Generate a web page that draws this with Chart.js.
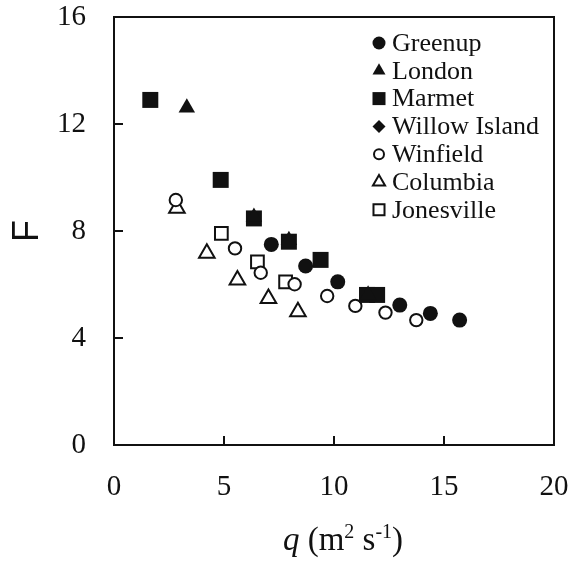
<!DOCTYPE html>
<html>
<head>
<meta charset="utf-8">
<script src="https://cdn.jsdelivr.net/npm/chart.js@4.4.1/dist/chart.umd.min.js"></script>
<style>
  html, body { margin: 0; padding: 0; background: #fff; }
  #wrap { width: 574px; height: 565px; }
</style>
</head>
<body>
<div id="wrap"><canvas id="chart" width="574" height="565"></canvas></div>
<script>
// Werte: q (m2 s-1) gegen F
const siteNames = ['Greenup', 'London', 'Marmet', 'Willow Island', 'Winfield', 'Columbia', 'Jonesville'];

const greenupQ = [7.15, 8.71, 10.17, 12.99, 14.38, 15.71];
const greenupF = [7.50, 6.69, 6.10, 5.23, 4.92, 4.67];

const londonQ = [3.31, 6.36, 7.95, 11.55];
const londonF = [12.61, 8.52, 7.65, 5.62];

const marmetQ = [1.65, 4.85, 6.36, 7.95, 9.39, 11.50, 11.96];
const marmetF = [12.90, 9.91, 8.47, 7.60, 6.92, 5.61, 5.61];

const willowQ = [4.85, 9.40, 11.90];
const willowF = [9.90, 6.92, 5.60];

const winfieldQ = [2.81, 5.50, 6.67, 8.21, 9.69, 10.97, 12.34, 13.74];
const winfieldF = [9.16, 7.35, 6.44, 6.01, 5.57, 5.20, 4.95, 4.67];

const columbiaQ = [2.86, 4.22, 5.61, 7.02, 8.36];
const columbiaF = [8.85, 7.17, 6.17, 5.48, 4.98];

const jonesvilleQ = [4.88, 6.52, 7.80];
const jonesvilleF = [7.91, 6.85, 6.10];

const xTicks = [0, 5, 10, 15, 20];
const yTicks = [0, 4, 8, 12, 16];

const ink = '#111';
const serif = "'Liberation Serif', 'Times New Roman', serif";

function pts(qs, fs) {
  return qs.map((q, i) => ({ x: q, y: fs[i] }));
}

// Marker je Station: Form, Füllung, Größe im Diagramm und in der Legende
const markers = [
  { style: 'circle',   fill: ink,    r: 7.5,  bw: 0, lr: 6.5 },
  { style: 'triangle', fill: ink,    r: 9.5,  bw: 0, lr: 7.5 },
  { style: 'rect',     fill: ink,    r: 11.3, bw: 0, lr: 9.2 },
  { style: 'rectRot',  fill: ink,    r: 7,    bw: 0, lr: 6.5 },
  { style: 'circle',   fill: '#fff', r: 6.2,  bw: 2, lr: 5 },
  { style: 'triangle', fill: '#fff', r: 9,    bw: 2, lr: 7 },
  { style: 'rect',     fill: '#fff', r: 9,    bw: 2, lr: 7.8 }
];

const seriesData = [
  pts(greenupQ, greenupF),
  pts(londonQ, londonF),
  pts(marmetQ, marmetF),
  pts(willowQ, willowF),
  pts(winfieldQ, winfieldF),
  pts(columbiaQ, columbiaF),
  pts(jonesvilleQ, jonesvilleF)
];

const datasets = seriesData.map((d, i) => ({
  label: siteNames[i],
  data: d,
  showLine: false,
  pointStyle: markers[i].style,
  pointRadius: markers[i].r,
  pointBackgroundColor: markers[i].fill,
  pointBorderColor: ink,
  pointBorderWidth: markers[i].bw
}));

// Achsen ohne Zusatzabstand, damit die Plotfläche fest sitzt
function noPad(s) {
  s.paddingLeft = 0; s.paddingRight = 0; s.paddingTop = 0; s.paddingBottom = 0;
}

// Rahmen oben/rechts, Legende und x-Achsentitel
const decorPlugin = {
  id: 'decor',
  afterDraw(chart) {
    const { ctx, chartArea: a } = chart;
    ctx.save();
    ctx.strokeStyle = ink;
    ctx.lineWidth = 2;
    ctx.beginPath();
    ctx.moveTo(a.left - 1, a.top);
    ctx.lineTo(a.right, a.top);
    ctx.lineTo(a.right, a.bottom + 1);
    ctx.stroke();

    // Legende
    ctx.font = '26px ' + serif;
    ctx.textBaseline = 'middle';
    ctx.textAlign = 'left';
    siteNames.forEach((name, i) => {
      const y = 43 + i * 27.8;
      const m = markers[i];
      ctx.fillStyle = m.fill;
      ctx.strokeStyle = ink;
      ctx.lineWidth = m.bw;
      Chart.helpers.drawPoint(ctx, { pointStyle: m.style, radius: m.lr, borderWidth: m.bw, rotation: 0 }, 379, y);
      ctx.fillStyle = ink;
      ctx.fillText(name, 392, y + 1);
    });

    // x-Achsentitel: q (m2 s-1)
    const parts = [
      { t: 'q', f: 'italic 33px ' + serif, dy: 0 },
      { t: ' (m', f: '33px ' + serif, dy: 0 },
      { t: '2', f: '20px ' + serif, dy: -12 },
      { t: ' s', f: '33px ' + serif, dy: 0 },
      { t: '-1', f: '20px ' + serif, dy: -12 },
      { t: ')', f: '33px ' + serif, dy: 0 }
    ];
    ctx.textBaseline = 'alphabetic';
    let total = 0;
    parts.forEach(p => { ctx.font = p.f; p.w = ctx.measureText(p.t).width; total += p.w; });
    let x = 343 - total / 2;
    parts.forEach(p => {
      ctx.font = p.f;
      ctx.fillText(p.t, x, 550 + p.dy);
      x += p.w;
    });
    ctx.restore();
  }
};

new Chart(document.getElementById('chart'), {
  type: 'scatter',
  data: { datasets: datasets },
  options: {
    responsive: false,
    devicePixelRatio: 1,
    animation: false,
    events: [],
    layout: { padding: { left: 0, right: 20, top: 17, bottom: 0 } },
    plugins: {
      legend: { display: false },
      tooltip: { enabled: false }
    },
    scales: {
      x: {
        type: 'linear',
        min: xTicks[0],
        max: xTicks[xTicks.length - 1],
        afterBuildTicks: s => { s.ticks = xTicks.map(v => ({ value: v })); },
        afterFit: s => { s.height = 120; noPad(s); },
        ticks: { color: ink, padding: 34, font: { family: serif, size: 29 } },
        grid: { display: true, drawOnChartArea: false, drawTicks: true, tickLength: -9, color: ink, lineWidth: 2 },
        border: { display: true, color: ink, width: 2 }
      },
      y: {
        type: 'linear',
        min: yTicks[0],
        max: yTicks[yTicks.length - 1],
        afterBuildTicks: s => { s.ticks = yTicks.map(v => ({ value: v })); },
        afterFit: s => { s.width = 114; noPad(s); },
        ticks: { color: ink, padding: 37, font: { family: serif, size: 29 } },
        grid: { display: true, drawOnChartArea: false, drawTicks: true, tickLength: -9, color: ink, lineWidth: 2 },
        border: { display: true, color: ink, width: 2 },
        title: {
          display: true,
          text: 'F',
          color: ink,
          font: { family: "'Liberation Sans', Arial, sans-serif", size: 36, lineHeight: 1 },
          padding: { top: 10, bottom: 0 }
        }
      }
    }
  },
  plugins: [decorPlugin]
});
</script>
</body>
</html>
